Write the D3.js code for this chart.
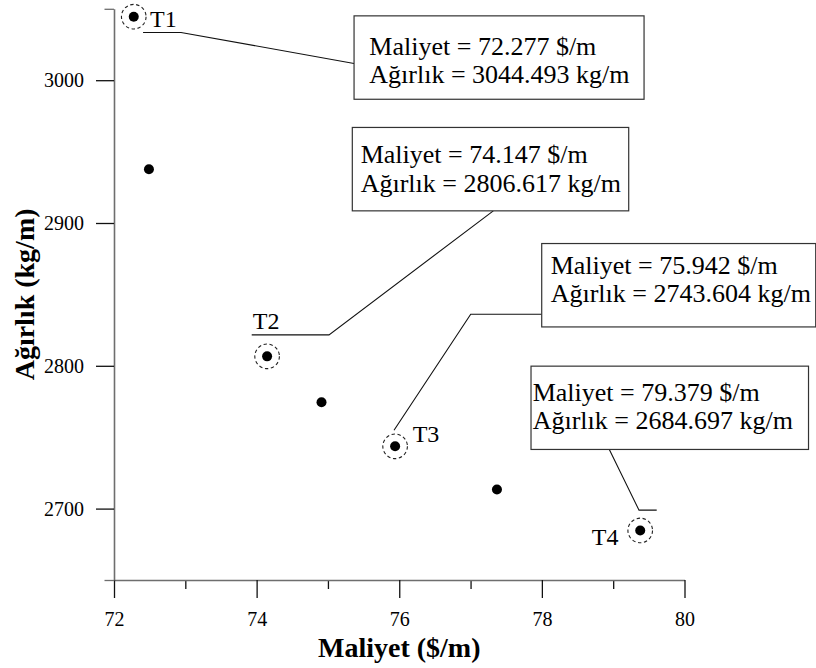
<!DOCTYPE html>
<html>
<head>
<meta charset="utf-8">
<script src="https://cdn.jsdelivr.net/npm/d3@7"></script>
<style>
  body { margin: 0; background: #fff; }
  svg { display: block; }
  svg text { font-family: "Liberation Serif", "Times New Roman", serif; }
</style>
</head>
<body>
<div class="chart"></div>
<script>
// pareto points
const MALIYET = [72.277, 72.49, 74.147, 74.91, 75.942, 77.37, 79.379];
const AGIRLIK = [3044.493, 2937.7, 2806.617, 2774.5, 2743.604, 2713.4, 2684.697];
// which points are tagged T1..T4 (index into the arrays above)
const TAGGED = [0, 2, 4, 6];
const TAG_NAMES = ["T1", "T2", "T3", "T4"];

const X_MAJOR = [72, 74, 76, 78, 80];
const X_MINOR = [73, 75, 77, 79];
const Y_MAJOR = [2700, 2800, 2900, 3000];
const Y_ENDS = [2650, 3050];

const X_TITLE = "Maliyet ($/m)";
const Y_TITLE = "Ağırlık (kg/m)";

// callout layout, pixel offsets relative to the tagged point
const CALLOUTS = [
  { box: [220.3, -0.8, 290, 83.4], textX: 15.3, lines: [39, 67], tag: [16.3, 10.2],
    leader: [[9.3, 15.8], [47.3, 15.8], [220.3, 46.8]] },
  { box: [85.2, -228.9, 276.4, 83.4], textX: 8.4, lines: [35.4, 64.4], tag: [-14.4, -26.9],
    leader: [[-15.4, -21.5], [61.9, -21.5], [226.2, -145.5]] },
  { box: [146.6, -202.8, 274, 83.4], textX: 9, lines: [30, 58.4], tag: [17.6, -4.4],
    leader: [[-1.1, -16.1], [75.6, -132.1], [146.6, -132.1]] },
  { box: [-109.2, -164.3, 277.5, 83.3], textX: 1.7, lines: [34.6, 62.8], tag: [-48.5, 14.7],
    leader: [[-30.9, -81], [-1.2, -20.3], [16.5, -20.3]] },
];

const FONT = "Liberation Serif, Times New Roman, serif";
const W = 816, H = 668;
const svg = d3.select(".chart").append("svg").attr("width", W).attr("height", H);

const x = d3.scaleLinear().domain([72, 80]).range([114, 684.5]);
const y = d3.scaleLinear().domain([2650, 3050]).range([580, 8.8]);

const AXIS_GREY = "#6e6e6e";

// x axis
const xMinor = svg.append("g").attr("transform", `translate(0,${y(2650)})`)
  .call(d3.axisBottom(x).tickValues(X_MINOR).tickSize(9).tickFormat(""));
xMinor.select(".domain").remove();
const xAxis = svg.append("g").attr("transform", `translate(0,${y(2650)})`)
  .call(d3.axisBottom(x).tickValues(X_MAJOR).tickSize(18).tickSizeOuter(0).tickPadding(14).tickFormat(d3.format("d")));
xAxis.select(".domain").attr("stroke", AXIS_GREY).attr("stroke-width", 1.6);

// y axis
const yEnds = svg.append("g").attr("transform", `translate(${x(72)},0)`)
  .call(d3.axisLeft(y).tickValues(Y_ENDS).tickSize(9.5).tickFormat(""));
yEnds.select(".domain").remove();
const yAxis = svg.append("g").attr("transform", `translate(${x(72)},0)`)
  .call(d3.axisLeft(y).tickValues(Y_MAJOR).tickSize(18).tickSizeOuter(0).tickPadding(12).tickFormat(d3.format("d")));
yAxis.select(".domain").attr("stroke", AXIS_GREY).attr("stroke-width", 1.6);

svg.selectAll("g").attr("font-family", FONT);
svg.selectAll(".tick line").attr("stroke", "#111").attr("stroke-width", 1.3);
svg.selectAll(".tick text")
  .attr("font-family", FONT)
  .attr("font-size", 20).attr("fill", "#000");
yEnds.selectAll(".tick line").attr("stroke", AXIS_GREY);

// axis titles
svg.append("text")
  .attr("x", (x(72) + x(80)) / 2).attr("y", 657)
  .attr("text-anchor", "middle").attr("font-family", FONT)
  .attr("font-size", 28).attr("font-weight", "bold")
  .text(X_TITLE);
svg.append("text")
  .attr("transform", `translate(34,${(y(2650) + y(3050)) / 2}) rotate(-90)`)
  .attr("text-anchor", "middle").attr("font-family", FONT)
  .attr("font-size", 28).attr("font-weight", "bold")
  .text(Y_TITLE);

// points
const points = MALIYET.map((m, i) => ({ m, a: AGIRLIK[i] }));
svg.append("g").selectAll("circle").data(points).join("circle")
  .attr("cx", d => x(d.m)).attr("cy", d => y(d.a)).attr("r", 5).attr("fill", "#000");

// tagged points: dashed ring, tag, leader and value box
const tagged = TAGGED.map((idx, k) => ({ ...points[idx], name: TAG_NAMES[k], lay: CALLOUTS[k] }));
const g = svg.append("g").attr("font-family", FONT).selectAll("g").data(tagged).join("g")
  .attr("transform", d => `translate(${x(d.m)},${y(d.a)})`);

g.append("circle").attr("r", 12.3).attr("fill", "none")
  .attr("stroke", "#222").attr("stroke-width", 1.1).attr("stroke-dasharray", "3.4,2.6");

g.append("text")
  .attr("x", d => d.lay.tag[0]).attr("y", d => d.lay.tag[1])
  .attr("font-family", FONT).attr("font-size", 24).text(d => d.name);

g.append("path")
  .attr("d", d => d3.line()(d.lay.leader))
  .attr("fill", "none").attr("stroke", "#111").attr("stroke-width", 1.1);

g.append("rect")
  .attr("x", d => d.lay.box[0]).attr("y", d => d.lay.box[1])
  .attr("width", d => d.lay.box[2]).attr("height", d => d.lay.box[3])
  .attr("fill", "#fff").attr("stroke", "#333").attr("stroke-width", 1.2);

g.each(function (d) {
  const t = d3.select(this);
  const bx = d.lay.box[0] + d.lay.textX, by = d.lay.box[1];
  t.append("text").attr("x", bx).attr("y", by + d.lay.lines[0])
    .attr("font-family", FONT).attr("font-size", 26)
    .text(`Maliyet = ${d.m.toFixed(3)} $/m`);
  t.append("text").attr("x", bx).attr("y", by + d.lay.lines[1])
    .attr("font-family", FONT).attr("font-size", 26)
    .text(`Ağırlık = ${d.a.toFixed(3)} kg/m`);
});
</script>
</body>
</html>
